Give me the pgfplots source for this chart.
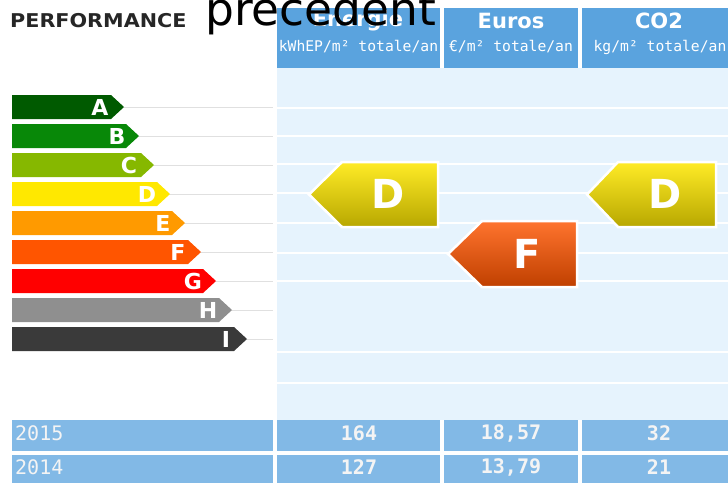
\documentclass[border=0pt]{standalone}
\usepackage{pgfplots}
\pgfplotsset{compat=1.18}
\usepackage{fontspec}
\setmainfont{DejaVu Sans}
\newfontfamily\mono{DejaVu Sans Mono}
\definecolor{hdr}{HTML}{5AA3DE}
\definecolor{pan}{HTML}{E6F3FD}
\definecolor{cell}{HTML}{82B9E6}
\definecolor{gA}{HTML}{005A00}
\definecolor{gB}{HTML}{088808}
\definecolor{gC}{HTML}{86B800}
\definecolor{gD}{HTML}{FFE800}
\definecolor{gE}{HTML}{FF9A00}
\definecolor{gF}{HTML}{FF5500}
\definecolor{gG}{HTML}{FF0000}
\definecolor{gH}{HTML}{8F8F8F}
\definecolor{gI}{HTML}{3A3A3A}
\definecolor{txtw}{HTML}{F4F4F4}
\begin{document}
\begin{tikzpicture}
\begin{axis}[
  scale only axis, width=728pt, height=483pt,
  xmin=0, xmax=728, ymin=0, ymax=483, y dir=reverse,
  hide axis, clip=false]
% panel background
\fill[pan] (axis cs:277,68) rectangle (axis cs:728,420);
% panel lines
\foreach \yy in {108,136,164,193,223,253,281,352,383}{
  \edef\tmp{\noexpand\draw[white, line width=1.2pt] (axis cs:277,\yy) -- (axis cs:728,\yy);}\tmp}
% left lines
\foreach \yy in {107,136,165,194,223,252,281,310,339}{
  \edef\tmp{\noexpand\draw[black!12, line width=0.8pt] (axis cs:110,\yy) -- (axis cs:273,\yy);}\tmp}
% header boxes
\fill[hdr] (axis cs:277,8) rectangle (axis cs:440,68);
\fill[hdr] (axis cs:444,8) rectangle (axis cs:578,68);
\fill[hdr] (axis cs:582,8) rectangle (axis cs:728,68);
% table cells
\fill[cell] (axis cs:12,420) rectangle (axis cs:273,451);
\fill[cell] (axis cs:277,420) rectangle (axis cs:440,451);
\fill[cell] (axis cs:444,420) rectangle (axis cs:578,451);
\fill[cell] (axis cs:582,420) rectangle (axis cs:728,451);
\fill[cell] (axis cs:12,455) rectangle (axis cs:273,483);
\fill[cell] (axis cs:277,455) rectangle (axis cs:440,483);
\fill[cell] (axis cs:444,455) rectangle (axis cs:578,483);
\fill[cell] (axis cs:582,455) rectangle (axis cs:728,483);
% scale bars
\addplot[fill=gA, draw=none] coordinates {(12,95)(111,95)(124,107)(111,119)(12,119)} -- cycle;
\addplot[fill=gB, draw=none] coordinates {(12,124)(126,124)(139,136)(126,148)(12,148)} -- cycle;
\addplot[fill=gC, draw=none] coordinates {(12,153)(141,153)(154,165)(141,177)(12,177)} -- cycle;
\addplot[fill=gD, draw=none] coordinates {(12,182)(157,182)(170,194)(157,206)(12,206)} -- cycle;
\addplot[fill=gE, draw=none] coordinates {(12,211)(172,211)(185,223)(172,235)(12,235)} -- cycle;
\addplot[fill=gF, draw=none] coordinates {(12,240)(188,240)(201,252)(188,264)(12,264)} -- cycle;
\addplot[fill=gG, draw=none] coordinates {(12,269)(203,269)(216,281)(203,293)(12,293)} -- cycle;
\addplot[fill=gH, draw=none] coordinates {(12,298)(219,298)(232,310)(219,322)(12,322)} -- cycle;
\addplot[fill=gI, draw=none] coordinates {(12,327)(234,327)(247,339)(234,351)(12,351)} -- cycle;
% rating arrows
\addplot[draw=white, line width=2.5pt, top color=gD!85!white, middle color=gD, bottom color=gD!72!black] coordinates {(342,162)(438,162)(438,227)(342,227)(309,194.5)} -- cycle;
\addplot[draw=white, line width=2.5pt, top color=gF!82!white, middle color=gF, bottom color=gF!75!black] coordinates {(482,221)(577,221)(577,287)(482,287)(448,254)} -- cycle;
\addplot[draw=white, line width=2.5pt, top color=gD!85!white, middle color=gD, bottom color=gD!72!black] coordinates {(618,162)(716,162)(716,227)(618,227)(587,194.5)} -- cycle;
% letters on scale
\foreach \xx/\yy/\ll in {100/107/A,117/136/B,129/165/C,147/194/D,163/223/E,178/252/F,193/281/G,208/310/H,226/339/I}{
  \edef\tmp{\noexpand\node[text=white, font=\noexpand\fontsize{22}{22}\noexpand\selectfont\noexpand\bfseries, inner sep=0pt] at (axis cs:\xx,\yy) {\ll};}\tmp}
% arrow letters
\node[text=white, font=\fontsize{40}{40}\selectfont\bfseries, inner sep=0pt] at (axis cs:388,194) {D};
\node[text=white, font=\fontsize{40}{40}\selectfont\bfseries, inner sep=0pt] at (axis cs:527,254) {F};
\node[text=white, font=\fontsize{40}{40}\selectfont\bfseries, inner sep=0pt] at (axis cs:665,194) {D};
% header texts
\node[anchor=west, font=\fontsize{19}{19}\selectfont\bfseries, text=black!85, inner sep=0pt] at (axis cs:10,21) {\scalebox{1.09}[1]{PERFORMANCE}};
\node[text=white, font=\fontsize{21}{21}\selectfont\bfseries, inner sep=0pt] at (axis cs:358,21) {Energie};
\node[text=white, font=\fontsize{21}{21}\selectfont\bfseries, inner sep=0pt] at (axis cs:511,21) {Euros};
\node[text=white, font=\fontsize{21}{21}\selectfont\bfseries, inner sep=0pt] at (axis cs:659,21) {CO2};
\node[text=white, font=\mono\fontsize{14.7}{14.7}\selectfont, inner sep=0pt] at (axis cs:358.5,47) {kWhEP/m² totale/an};
\node[text=white, font=\mono\fontsize{14.7}{14.7}\selectfont, inner sep=0pt] at (axis cs:511,47) {€/m² totale/an};
\node[text=white, font=\mono\fontsize{14.7}{14.7}\selectfont, inner sep=0pt] at (axis cs:660,47) {kg/m² totale/an};
% table texts
\node[anchor=west, text=txtw, font=\mono\fontsize{20}{20}\selectfont, inner sep=0pt] at (axis cs:15,433) {2015};
\node[anchor=west, text=txtw, font=\mono\fontsize{20}{20}\selectfont, inner sep=0pt] at (axis cs:15,467) {2014};
\node[text=txtw, font=\mono\fontsize{20}{20}\selectfont\bfseries, inner sep=0pt] at (axis cs:359,433) {164};
\node[text=txtw, font=\mono\fontsize{20}{20}\selectfont\bfseries, inner sep=0pt] at (axis cs:511,433) {18,57};
\node[text=txtw, font=\mono\fontsize{20}{20}\selectfont\bfseries, inner sep=0pt] at (axis cs:659,433) {32};
\node[text=txtw, font=\mono\fontsize{20}{20}\selectfont\bfseries, inner sep=0pt] at (axis cs:359,467) {127};
\node[text=txtw, font=\mono\fontsize{20}{20}\selectfont\bfseries, inner sep=0pt] at (axis cs:511,467) {13,79};
\node[text=txtw, font=\mono\fontsize{20}{20}\selectfont\bfseries, inner sep=0pt] at (axis cs:659,467) {21};
% overlaid title
\node[anchor=base west, text=black, font=\fontsize{45.5}{45.5}\selectfont, inner sep=0pt] at (axis cs:205,25) {precedent};
\end{axis}
\pgfresetboundingbox
\useasboundingbox (0,0) rectangle (728pt,483pt);
\end{tikzpicture}
\end{document}
